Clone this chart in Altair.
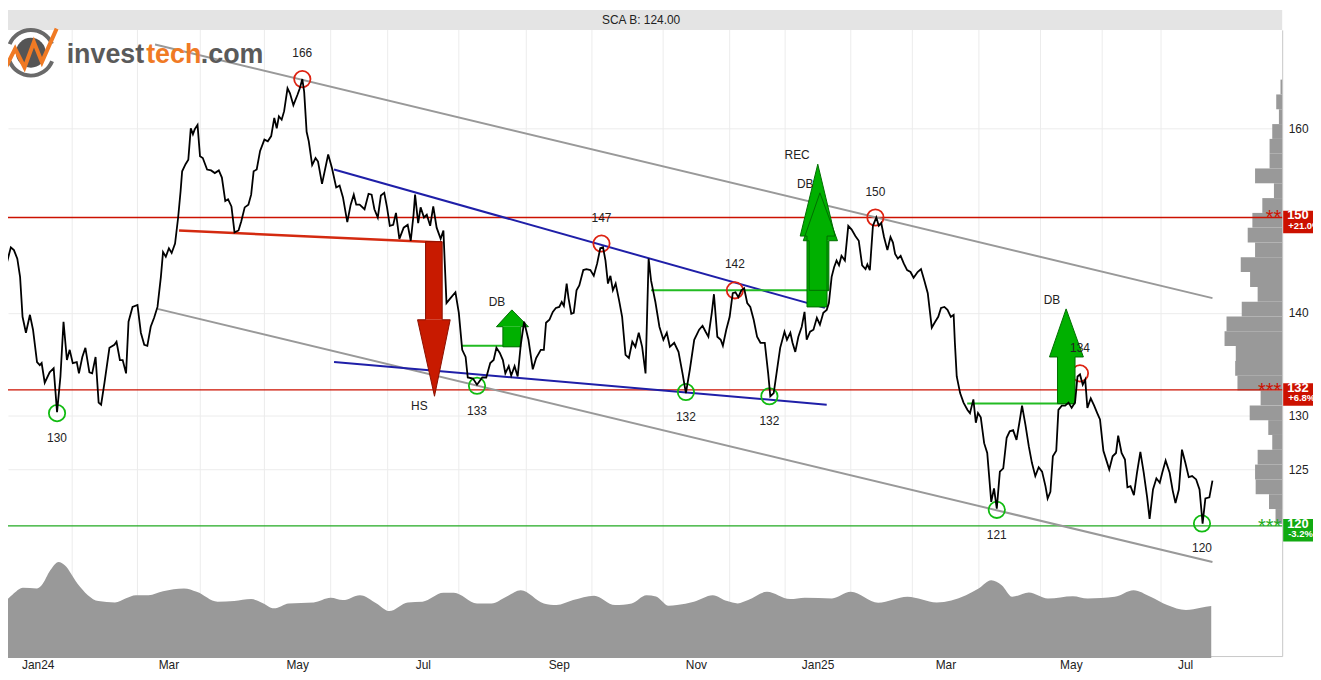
import altair as alt
import pandas as pd

# ------------------------------------------------------------------ data
ticker = "SCA B"
last_price = 124.00

# trading-day index (0 = last session of 2023) and closing price
day = [0, 1.3, 2.4, 3.5, 4.5, 5.6, 6.5, 7.3, 8.4, 9.7, 10.7, 12.0, 12.9, 13.5, 14.5, 16.1, 17.4, 18.5, 19.6, 20.6,
       21.7, 22.6, 23.6, 24.9, 25.6, 26.7, 27.7, 29.0, 29.9, 31.0, 32.0, 32.8, 33.9, 35.5, 37.1, 37.8, 38.9, 39.8, 40.9, 41.7,
       43.0, 44.6, 45.7, 46.8, 47.8, 48.9, 50.0, 51.1, 52.2, 52.9, 53.8, 54.8, 55.7, 56.8, 57.8, 58.6, 59.1, 60.2, 61.1, 61.9,
       62.6, 63.2, 64.1, 64.9, 65.8, 67.2, 68.5, 69.7, 71.0, 72.0, 73.1, 74.0, 75.1, 76.1, 77.4, 78.3, 79.4, 80.6, 81.5, 82.3,
       83.3, 84.4, 85.8, 86.9, 88.0, 89.0, 89.8, 90.5, 91.4, 92.2, 93.3, 94.1, 95.2, 96.5, 97.3, 98.1, 98.7, 99.5, 100.2, 101.3,
       102.4, 103.2, 104.5, 106.5, 107.7, 109.1, 110.2, 111.3, 112.7, 113.8, 114.8, 115.6, 116.7, 118.3, 119.6, 120.6, 121.5, 122.6, 123.6, 124.7,
       125.6, 126.5, 127.6, 128.5, 129.6, 131.0, 132.3, 133.3, 134.2, 134.7, 135.7, 136.5, 137.6, 138.5, 139.6, 140.6, 141.7, 143.0, 143.9, 144.3,
       144.9, 146.2, 147.8, 148.9, 150.0, 151.1, 151.8, 153.5, 154.8, 156.5, 157.8, 159.1, 160.2, 161.1, 162.2, 163.2, 164.0, 165.1, 165.9, 167.0,
       168.0, 169.0, 170.1, 171.5, 172.9, 174.0, 175.5, 176.5, 177.2, 178.3, 179.4, 180.4, 181.5, 182.3, 183.0, 183.9, 184.5, 185.4, 186.2, 187.1,
       188.0, 189.3, 190.3, 191.6, 192.7, 193.8, 194.8, 195.7, 196.5, 197.3, 198.1, 198.9, 199.8, 200.9, 201.9, 203.0, 204.1, 205.2, 206.2, 207.3,
       208.4, 209.5, 210.5, 211.3, 212.7, 214.0, 215.3, 216.4, 217.4, 218.8, 220.2, 221.5, 222.6, 223.9, 225.3, 226.9, 228.0, 229.0, 229.9, 231.0,
       231.7, 232.8, 233.9, 234.6, 235.7, 236.8, 237.8, 238.7, 239.6, 240.6, 241.5, 242.5, 243.5, 244.6, 245.7, 246.8, 248.2, 249.3, 250.0, 251.1,
       252.2, 253.2, 254.6, 255.4, 256.5, 257.2, 258.1, 259.1, 260.2, 261.1, 261.8, 262.9, 264.0, 265.1, 266.1, 267.2, 268.3, 269.0, 269.9, 270.7,
       271.5, 272.3, 273.1, 274.2, 275.3, 276.4, 277.6, 278.7, 279.8, 280.9, 281.5, 282.3, 283.3, 284.4, 285.2, 286.0, 286.9, 288.0, 289.0, 289.8,
       290.5, 291.4, 292.3, 293.3, 294.4, 295.5, 296.5, 297.8, 298.9, 300.0, 301.1, 302.4, 303.5, 304.5, 305.4, 306.5, 307.5, 308.6, 309.5, 309.9,
       310.5, 311.6, 312.7, 314.0, 314.8, 315.9, 316.7, 317.4, 318.3, 319.4, 320.4, 321.7, 322.6, 323.5, 324.5, 325.6, 326.7, 327.7, 328.8, 329.9,
       331.0, 331.7, 332.8, 333.9, 334.9, 336.0, 337.1, 338.2, 339.3, 340.0, 340.9, 341.7, 342.8, 343.5, 344.6, 345.7, 346.8, 347.8, 348.9, 349.7,
       350.5, 351.4, 352.2, 352.9, 354.0, 355.1, 356.1, 357.0, 358.1, 359.1, 360.0, 361.1, 362.2, 362.9, 364.0, 365.1, 365.9, 366.9, 368.0, 369.0,
       370.1, 371.2, 372.3, 373.1, 374.2, 375.3, 376.4, 377.2, 378.3, 379.6, 380.6, 381.5, 382.6, 383.6, 384.7, 385.8, 386.9, 388.2, 389.3, 390.3,
       391.2, 392.5, 393.5]
close = [145.1, 146.7, 145.4, 146.8, 146.5, 145.6, 143.7, 139.6, 138.0, 139.8, 138.3, 135.1, 134.8, 135.0, 133.1, 134.1, 134.5, 130.3, 133.7, 139.1,
         135.3, 136.3, 135.0, 135.1, 134.0, 135.6, 136.5, 134.1, 134.0, 135.6, 131.2, 131.0, 133.1, 136.5, 136.8, 137.1, 135.3, 135.3, 134.0, 139.1,
         140.6, 140.8, 138.0, 136.8, 136.7, 138.6, 139.5, 140.6, 143.7, 146.3, 145.8, 146.7, 146.2, 147.2, 150.0, 152.9, 155.1, 155.9, 156.4, 160.0,
         159.3, 159.9, 160.4, 156.8, 156.6, 155.3, 155.2, 154.9, 155.2, 154.4, 151.8, 152.0, 151.2, 148.4, 148.6, 149.6, 151.1, 151.4, 152.5, 155.1,
         155.3, 157.4, 158.7, 158.5, 159.1, 161.2, 160.0, 161.4, 161.0, 162.0, 164.7, 164.1, 162.7, 163.9, 164.7, 165.8, 164.3, 159.6, 158.5, 155.8,
         156.6, 156.2, 153.7, 157.0, 155.5, 153.3, 153.5, 152.2, 149.5, 151.4, 152.5, 151.4, 151.4, 150.9, 152.6, 152.5, 150.9, 150.0, 152.4, 152.7,
         151.1, 149.1, 149.2, 150.5, 147.7, 148.9, 149.2, 147.5, 150.3, 152.5, 149.4, 151.1, 150.0, 150.3, 149.1, 151.2, 148.9, 147.7, 148.6, 145.4,
         141.0, 141.5, 142.1, 140.0, 136.3, 135.6, 133.6, 133.5, 132.9, 133.6, 133.6, 135.0, 135.3, 136.5, 136.0, 135.3, 134.0, 134.7, 133.8, 134.7,
         133.7, 136.8, 139.1, 137.3, 134.4, 135.5, 136.3, 136.3, 139.0, 139.3, 140.1, 140.5, 140.6, 141.1, 140.7, 143.0, 141.5, 139.9, 140.0, 142.3,
         142.8, 144.4, 144.5, 144.4, 143.8, 145.1, 146.7, 146.8, 145.4, 143.0, 143.8, 142.3, 143.0, 141.3, 139.6, 135.8, 135.5, 137.1, 136.6, 138.0,
         136.6, 134.0, 145.6, 143.3, 141.1, 138.6, 137.3, 138.0, 136.6, 137.0, 136.1, 134.0, 132.1, 134.4, 137.3, 138.3, 138.7, 138.1, 137.6, 140.0,
         141.9, 137.6, 137.3, 136.7, 138.3, 139.6, 142.0, 142.1, 141.6, 142.3, 142.5, 141.0, 140.6, 139.3, 137.6, 137.0, 137.0, 134.0, 131.8, 132.1,
         134.4, 136.5, 138.1, 137.3, 138.0, 137.0, 136.1, 137.6, 138.6, 140.1, 137.3, 138.1, 138.3, 139.5, 138.8, 140.0, 140.3, 141.0, 143.7, 144.7,
         145.4, 144.9, 145.9, 145.4, 149.1, 148.7, 148.0, 147.5, 144.9, 144.5, 145.0, 144.4, 149.1, 150.0, 149.1, 149.4, 147.9, 146.5, 147.9, 147.3,
         146.1, 145.6, 145.9, 145.1, 144.4, 144.2, 143.6, 144.2, 144.5, 143.3, 142.0, 138.5, 139.1, 139.6, 140.5, 140.6, 140.3, 139.6, 139.8, 137.0,
         133.7, 132.1, 131.2, 130.5, 130.2, 131.5, 129.3, 130.2, 129.8, 127.4, 126.5, 122.1, 123.3, 121.5, 124.8, 125.1, 127.9, 128.5, 128.6, 127.7,
         129.6, 130.9, 129.1, 127.1, 125.6, 124.4, 125.2, 124.8, 123.5, 122.4, 123.0, 126.2, 126.7, 130.5, 130.9, 130.9, 131.2, 130.7, 131.2, 133.7,
         133.9, 132.9, 133.4, 130.7, 131.6, 130.9, 130.2, 129.6, 126.7, 125.8, 125.0, 126.2, 126.5, 128.1, 126.5, 125.9, 123.4, 123.5, 122.7, 124.7,
         126.6, 124.7, 122.5, 120.6, 123.2, 124.2, 123.8, 124.7, 125.8, 124.7, 123.1, 122.0, 123.2, 126.8, 125.6, 124.3, 124.4, 124.1, 123.2, 120.2,
         122.4, 122.5, 124.0]

# smoothed volume (bottom panel)
vol_day = [0, 1.4, 4.1, 7.4, 11.9, 13.5, 16.3, 19.0, 21.0, 25.1, 28.5, 31.9, 37.3, 40.7, 44.1, 48.2, 52.9, 59.7, 63.8, 70.6,
           76.0, 81.5, 84.8, 88.9, 93.7, 101.8, 107.3, 111.3, 116.8, 122.2, 126.3, 132.4, 137.1, 143.9, 147.3, 154.8, 159.5, 164.3, 169.0, 176.5,
           180.6, 186.0, 192.8, 199.6, 205.0, 209.8, 212.9, 217.0, 219.7, 225.2, 231.3, 236.0, 239.4, 242.8, 248.9, 256.4, 261.2, 270.0, 276.1, 285.0,
           294.5, 304.0, 313.5, 317.6, 321.7, 325.1, 328.5, 333.9, 340.1, 348.2, 353.0, 361.8, 367.9, 373.4, 378.8, 384.9, 389.7, 393.1]
vol = [5.5, 5.67, 6.4, 7.07, 7.0, 7.33, 8.83, 9.67, 9.33, 7.5, 6.33, 5.73, 5.6, 6.0, 6.33, 6.33, 6.73, 7.0, 6.67, 5.67,
       5.73, 5.93, 5.6, 5.0, 5.5, 5.6, 6.07, 5.83, 6.33, 5.5, 4.73, 5.6, 5.67, 6.57, 6.57, 5.5, 5.5, 6.17, 6.83, 5.5,
       5.33, 5.83, 6.27, 5.33, 5.5, 6.33, 6.2, 5.27, 5.33, 5.67, 6.33, 5.73, 5.5, 5.83, 6.67, 5.93, 6.07, 6.0, 6.67, 5.57,
       6.17, 5.6, 6.33, 7.0, 7.83, 7.33, 6.17, 6.6, 6.0, 6.23, 6.0, 6.17, 6.83, 6.17, 5.33, 4.83, 5.07, 5.23]

# volume-by-price profile: bin edges (high -> low) and volume per bin
prof_edges = [165.74, 163.97, 162.22, 160.49, 158.78, 157.09, 155.42, 153.76, 152.12, 150.50, 148.90,
              147.31, 145.74, 144.19, 142.65, 141.13, 139.63, 138.14, 136.67, 135.21, 133.77,
              132.34, 130.93, 129.54, 128.16, 126.79, 125.44, 124.10, 122.78, 121.47, 120.17]
prof_vol = [1.7, 6, 3.3, 10, 12.7, 12.7, 27.3, 8.3, 20, 30, 34.7, 27.3, 41.7, 32.3, 24.7, 40.7, 56, 58, 46.7, 47.3,
            45, 21.7, 32.7, 14, 10, 24.7, 27.3, 26.7, 13.3, 6.7]

# month grid (first session of each month) and month labels (mid-month)
grid_day = [1.3, 23.4, 44.6, 65.0, 85.8, 107.3, 125.8, 148.9, 170.8, 192.1, 215.2, 236.8, 254.8, 276.1, 296.1, 317.7,
            337.7, 357.7, 376.8]
month_day = [12.4, 54.8, 96.6, 137.4, 181.5, 226.0, 265.5, 307.0, 347.7, 384.8]
month_lbl = ["Jan24", "Mar", "May", "Jul", "Sep", "Nov", "Jan25", "Mar", "May", "Jul"]

y_ticks = [125, 130, 140, 160]

# support / resistance levels
level_p = [150.0, 132.4, 120.0]
level_col = ["#cc1100", "#cc1100", "#22aa22"]
box_col = ["#cc1100", "#cc1100", "#11aa11"]
level_main = ["150", "132", "120"]
level_pct = ["+21.0%", "+6.8%", "-3.2%"]
level_stars = ["**", "***", "***"]

# trend channel, wedge, neckline and breakout lines
seg_d1 = [50.3, 51.1, 108.4, 108.4, 58.1, 149.7, 211.3, 313.9]
seg_p1 = [170.0, 140.4, 155.3, 135.1, 148.6, 136.7, 142.3, 131.1]
seg_d2 = [393.5, 393.5, 267.7, 268.3, 143.5, 169.0, 269.0, 349.0]
seg_p2 = [141.5, 116.9, 140.5, 131.0, 147.3, 136.7, 142.3, 131.1]
seg_col = ["#999999", "#999999", "#1f1fa8", "#1f1fa8", "#d42a10", "#22bb22", "#22bb22", "#22bb22"]
seg_w = [2, 2, 2, 2, 2.5, 2, 2, 2]

# tops and bottoms
top_day = [98.1, 195.2, 238.5, 284.1, 350.5]
top_p = [165.8, 147.2, 142.3, 150.0, 134.0]
top_lbl = ["166", "147", "142", "150", "134"]
bot_day = [18.5, 154.8, 222.6, 249.7, 323.5, 390.1]
bot_p = [130.2, 132.8, 132.2, 131.8, 121.4, 120.2]
bot_lbl = ["130", "133", "132", "132", "121", "120"]

# pattern names
pat_day = [136.1, 161.3, 258.7, 261.3, 341.4]
pat_p = [130.9, 141.1, 156.9, 153.7, 141.3]
pat_lbl = ["HS", "DB", "REC", "DB", "DB"]

# pattern target arrows
arr_name = ["HS", "DB1", "REC", "DB2", "DB3"]
arr_tip_d = [141.0, 166.1, 265.4, 266.1, 346.0]
arr_tip_p = [131.8, 140.3, 155.9, 152.7, 140.4]
arr_head_p = [139.3, 138.6, 148.0, 147.5, 135.6]
arr_head_l = [135.5, 161.1, 259.7, 260.7, 340.6]
arr_head_r = [146.1, 171.5, 271.0, 271.8, 351.6]
arr_shaft_l = [138.1, 163.2, 261.9, 262.6, 343.2]
arr_shaft_r = [143.5, 169.0, 268.4, 269.0, 348.9]
arr_start_p = [147.4, 136.6, 140.6, 142.3, 131.1]
arr_fill = ["#c81a00", "#00b000", "#00b000", "#00b000", "#00b000"]
arr_line = ["#8a1000", "#006e00", "#006e00", "#006e00", "#006e00"]

# ------------------------------------------------------------------ layout
W, H = 1282, 630
T_MIN, T_MAX = 2.58, 416.13
P_MIN, P_MAX = 109.21, 171.81
V_MIN, V_MAX = 0.2, 63.2
PROF_MAX = W
FONT = "Liberation Sans, Arial, sans-serif"
RED, GREEN = "#dd2211", "#11bb11"

xs = alt.Scale(domain=[T_MIN, T_MAX], nice=False, zero=False)
ys = alt.Scale(type="log", domain=[P_MIN, P_MAX], nice=False)


def xq(f):
    return alt.X(f"{f}:Q", scale=xs, axis=None)


def yq(f):
    return alt.Y(f"{f}:Q", scale=ys, axis=None)


one = pd.DataFrame({"a": [0]})

# ---- background grid + axes
vgrid = alt.Chart(pd.DataFrame({"d": grid_day})).mark_rule(color="#ececec", strokeWidth=1).encode(
    x=alt.X("d:Q", scale=xs, axis=alt.Axis(labels=False, ticks=False, grid=False, domainColor="#c8c8c8",
                                           title=None)))
yaxis = alt.Chart(pd.DataFrame({"p": y_ticks})).mark_rule(opacity=0).encode(
    y=alt.Y("p:Q", scale=ys, axis=alt.Axis(orient="right", values=y_ticks, format="d", grid=True,
                                           gridColor="#ececec", ticks=False, tickSize=0, labelPadding=6,
                                           domainColor="#c8c8c8", labelFont=FONT, labelFontSize=12,
                                           labelColor="#222222", title=None)))
g1 = alt.layer(vgrid, yaxis)

# ---- volume
vol_layer = alt.Chart(pd.DataFrame({"d": vol_day, "v": vol})).mark_area(
    color="#999999", interpolate="monotone", opacity=1).encode(
    x=alt.X("d:Q", scale=xs, axis=None),
    y=alt.Y("v:Q", scale=alt.Scale(domain=[V_MIN, V_MAX], nice=False, zero=False), axis=None))

# ---- volume profile
df_prof = pd.DataFrame({"hi": prof_edges[:-1], "lo": prof_edges[1:], "vol": prof_vol})
prof_layer = alt.Chart(df_prof).mark_rect(color="#999999").encode(
    x=alt.X("vol:Q", scale=alt.Scale(domain=[0, PROF_MAX], reverse=True, nice=False, zero=True), axis=None),
    x2=alt.value(W),
    y=yq("lo"), y2="hi:Q")

# ---- overlay
df_lv = pd.DataFrame({"p": level_p, "c": level_col, "bc": box_col, "m": level_main,
                      "pct": level_pct, "st": level_stars})
levels = alt.Chart(df_lv).mark_rule(strokeWidth=1.3).encode(
    y=yq("p"), color=alt.Color("c:N", scale=None))

df_seg = pd.DataFrame({"d1": seg_d1, "p1": seg_p1, "d2": seg_d2, "p2": seg_p2, "c": seg_col, "w": seg_w})
segs = alt.Chart(df_seg).mark_rule().encode(
    x=xq("d1"), y=yq("p1"), x2="d2:Q", y2="p2:Q",
    color=alt.Color("c:N", scale=None), strokeWidth=alt.StrokeWidth("w:Q", scale=None))

df_top = pd.DataFrame({"d": top_day, "p": top_p, "l": top_lbl})
df_bot = pd.DataFrame({"d": bot_day, "p": bot_p, "l": bot_lbl})
circ_top = alt.Chart(df_top).mark_point(shape="circle", size=270, strokeWidth=1.8, filled=False,
                                        opacity=1, color=RED).encode(x=xq("d"), y=yq("p"))
circ_bot = alt.Chart(df_bot).mark_point(shape="circle", size=270, strokeWidth=1.8, filled=False,
                                        opacity=1, color=GREEN).encode(x=xq("d"), y=yq("p"))

fill_rows, line_rows = [], []
for i, n in enumerate(arr_name):
    hp, sp = arr_head_p[i], arr_start_p[i]
    fill_rows += [
        dict(part=n + "-s", d=arr_shaft_l[i], p=hp, b=sp, f=arr_fill[i]),
        dict(part=n + "-s", d=arr_shaft_r[i], p=hp, b=sp, f=arr_fill[i]),
        dict(part=n + "-h", d=arr_head_l[i], p=hp, b=hp, f=arr_fill[i]),
        dict(part=n + "-h", d=arr_tip_d[i], p=arr_tip_p[i], b=hp, f=arr_fill[i]),
        dict(part=n + "-h", d=arr_head_r[i], p=hp, b=hp, f=arr_fill[i]),
    ]
    verts = [(arr_shaft_l[i], sp), (arr_shaft_l[i], hp), (arr_head_l[i], hp), (arr_tip_d[i], arr_tip_p[i]),
             (arr_head_r[i], hp), (arr_shaft_r[i], hp), (arr_shaft_r[i], sp), (arr_shaft_l[i], sp)]
    for k, (vd, vp) in enumerate(verts):
        line_rows.append(dict(a=n, o=k, d=vd, p=vp, s=arr_line[i]))
arr_fill_layer = alt.Chart(pd.DataFrame(fill_rows)).mark_area(opacity=1).encode(
    x=xq("d"), y=alt.Y("p:Q", scale=ys, axis=None, stack=None), y2="b:Q",
    detail="part:N", color=alt.Color("f:N", scale=None))
arr_line_layer = alt.Chart(pd.DataFrame(line_rows)).mark_line(strokeWidth=1).encode(
    x=xq("d"), y=yq("p"), detail="a:N", order="o:Q", color=alt.Color("s:N", scale=None))

price = alt.Chart(pd.DataFrame({"d": day, "p": close})).mark_line(color="#000000", strokeWidth=1.8).encode(
    x=xq("d"), y=yq("p"))

txt = dict(font=FONT, fontSize=12, color="#222222")
top_txt = alt.Chart(df_top).mark_text(dy=-26, **txt).encode(x=xq("d"), y=yq("p"), text="l:N")
bot_txt = alt.Chart(df_bot).mark_text(dy=25, **txt).encode(x=xq("d"), y=yq("p"), text="l:N")
pat_txt = alt.Chart(pd.DataFrame({"d": pat_day, "p": pat_p, "l": pat_lbl})).mark_text(**txt).encode(
    x=xq("d"), y=yq("p"), text="l:N")
month_txt = alt.Chart(pd.DataFrame({"d": month_day, "l": month_lbl})).mark_text(**txt).encode(
    x=xq("d"), y=alt.value(H + 9), text="l:N")

stars = alt.Chart(df_lv).mark_text(align="right", baseline="alphabetic", dy=7, fontSize=20, font=FONT).encode(
    x=alt.value(W - 1), y=yq("p"), text="st:N", color=alt.Color("c:N", scale=None))
boxes = alt.Chart(df_lv).mark_rect(yOffset=-6.8, y2Offset=15.8).encode(
    x=alt.value(W + 1), x2=alt.value(W + 60), y=yq("p"), y2="p:Q", color=alt.Color("bc:N", scale=None))
box_main = alt.Chart(df_lv).mark_text(align="left", dy=-2, fontSize=13, fontWeight="bold", font=FONT,
                                      color="white").encode(x=alt.value(W + 5), y=yq("p"), text="m:N")
box_sub = alt.Chart(df_lv).mark_text(align="left", dy=8.5, fontSize=9.5, fontWeight="bold", font=FONT,
                                     color="white").encode(x=alt.value(W + 6), y=yq("p"), text="pct:N")

header_bg = alt.Chart(one).mark_rect(color="#e4e4e4").encode(
    x=alt.value(0), x2=alt.value(W), y=alt.value(-20), y2=alt.value(0))
header_txt = alt.Chart(pd.DataFrame({"t": [f"{ticker}: {last_price:.2f}"]})).mark_text(**txt).encode(
    x=alt.value(637), y=alt.value(-10), text="t:N")

# ---- logo
LOGO_FONT = "Liberation Sans, Arial, sans-serif"
logo_parts = []
for word, xpos, col in [("invest", 59, "#5a5a5a"), ("tech", 139, "#f07a24"), (".com", 194, "#5a5a5a")]:
    logo_parts.append(alt.Chart(one).mark_text(align="left", baseline="alphabetic", fontSize=27,
                                               fontWeight="bold", font=LOGO_FONT, color=col).encode(
        x=alt.value(xpos), y=alt.value(33), text=alt.value(word)))
ring_top = alt.Chart(one).mark_arc(radius=25, radius2=21, theta=5.1, theta2=7.45, color="#6a6a6a").encode(
    x=alt.value(23), y=alt.value(23))
ring_bot = alt.Chart(one).mark_arc(radius=25, radius2=21, theta=1.95, theta2=4.33, color="#6a6a6a").encode(
    x=alt.value(23), y=alt.value(23))
disc = alt.Chart(one).mark_point(shape="circle", filled=True, size=900, opacity=1, color="#555555").encode(
    x=alt.value(23), y=alt.value(23))
zig = alt.Chart(one).mark_point(
    shape="M-1,0.75 L-0.55,-0.15 L-0.2,0.55 L0.15,-0.4 L0.45,0.35 L1,-0.9",
    size=2900, filled=False, opacity=1, strokeWidth=4, color="#f07a24").encode(
    x=alt.value(22), y=alt.value(23))

g2 = alt.layer(levels, segs, circ_top, circ_bot, arr_fill_layer, arr_line_layer, price,
               top_txt, bot_txt, pat_txt, month_txt, stars, boxes, box_main, box_sub,
               header_bg, header_txt, ring_top, ring_bot, disc, zig, *logo_parts)

chart = alt.layer(g1, vol_layer, prof_layer, g2).resolve_scale(
    x="independent", y="independent").properties(
    width=W, height=H,
    padding={"left": 0, "top": 20, "right": 31, "bottom": 14},
    autosize=alt.AutoSizeParams(type="none"),
).configure_view(stroke=None)

chart.save("out.html", embed_options={"renderer": "svg", "actions": False})
